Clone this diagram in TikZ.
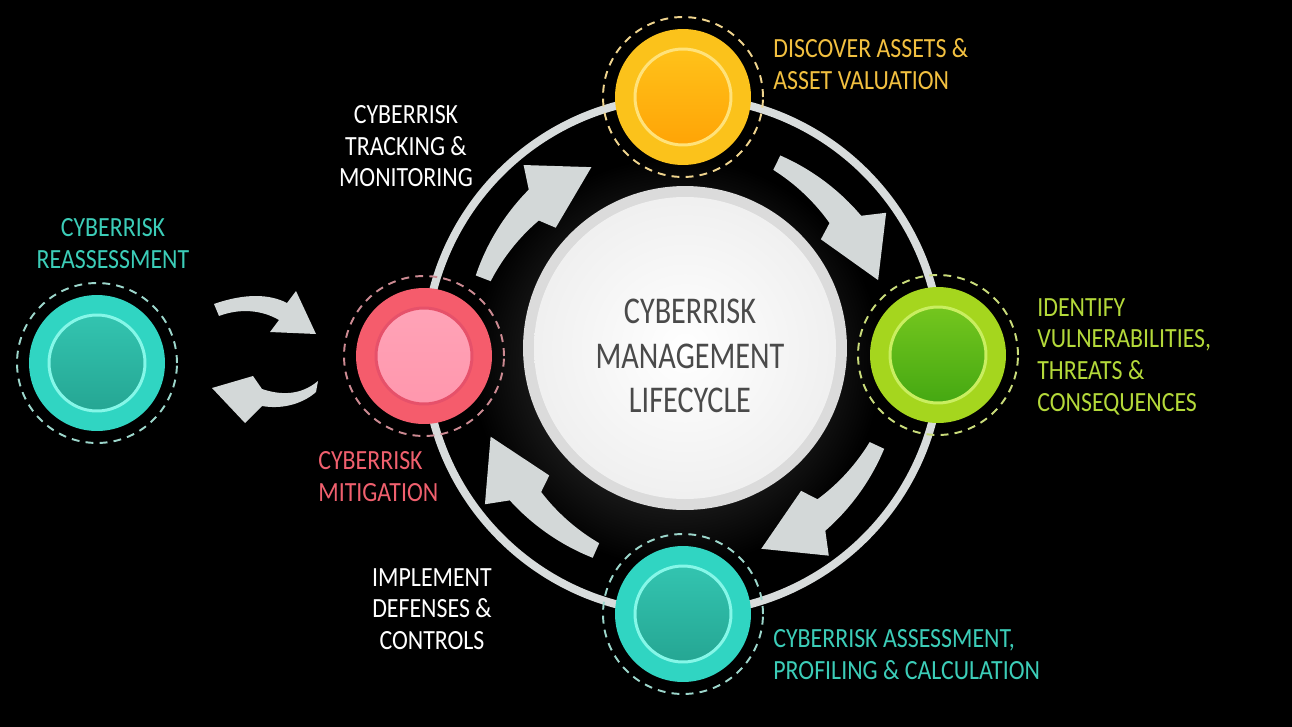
\documentclass[tikz,border=0pt]{standalone}
\usepackage{fontspec}
\setmainfont{Carlito}[FakeStretch=0.86]
\newfontfamily\hubfont{Carlito}[FakeStretch=0.8]
\usepackage{xcolor}
\usepackage{tikz}
\definecolor{ringgray}{HTML}{D8DCDC}
\definecolor{arrowgray}{HTML}{D3D8D8}
\definecolor{centertxt}{HTML}{4A4A4A}
\definecolor{outyel}{HTML}{FBC21B}\definecolor{topyel}{HTML}{FFC21A}\definecolor{botyel}{HTML}{FFA406}
\definecolor{rimyel}{HTML}{FFE27A}\definecolor{dashyel}{HTML}{EFD48E}\definecolor{txtyel}{HTML}{F2C040}
\definecolor{outgrn}{HTML}{A5D61E}\definecolor{topgrn}{HTML}{74C61E}\definecolor{botgrn}{HTML}{45A812}
\definecolor{rimgrn}{HTML}{C9EE60}\definecolor{dashgrn}{HTML}{C9DB7A}\definecolor{txtgrn}{HTML}{B4D93A}
\definecolor{outtea}{HTML}{30D5C2}\definecolor{toptea}{HTML}{33C4B0}\definecolor{bottea}{HTML}{25A693}
\definecolor{rimtea}{HTML}{85F7E8}\definecolor{dashtea}{HTML}{9CD6CB}\definecolor{txttea}{HTML}{3CCDB8}
\definecolor{outpnk}{HTML}{F55C6C}\definecolor{toppnk}{HTML}{FFA3B7}\definecolor{botpnk}{HTML}{FF97AD}
\definecolor{rimpnk}{HTML}{E6516A}\definecolor{dashpnk}{HTML}{CC8A92}\definecolor{txtpnk}{HTML}{F0606E}
\tikzset{
  dashring/.style={circle, draw=#1, line width=1.1pt, dash pattern=on 4.5pt off 3.5pt, minimum size=3.2cm, inner sep=0pt},
  satfill/.style={circle, fill=#1, minimum size=2.72cm, inner sep=0pt},
  satcore/.style={circle, minimum size=1.92cm, inner sep=0pt, line width=1.7pt},
  lbl/.style={font=\fontsize{15.8}{18.1}\selectfont, inner sep=0pt, align=left, anchor=north west},
  lblc/.style={lbl, align=center, anchor=north},
}

\begin{document}
\begin{tikzpicture}[x=0.02cm, y=-0.02cm]
\fill[black] (0,0) rectangle (1292,727);
\useasboundingbox (0,0) rectangle (1292,727);

% glow behind the hub
\shade[inner color=black!70!white, outer color=black] (676,362) circle [radius=205];

% track
\draw[ringgray, line width=0.16cm] (683,355) circle [radius=258];

% satellites
\foreach \nm/\px/\py/\c in {discover/683/97/yel, identify/938/355/grn, assess/683/614/tea, mitigate/424/356/pnk, reassess/97/363/tea}{
  \node[dashring=dash\c] (\nm-d) at (\px,\py) {};
  \node[satfill=out\c] (\nm) at (\px,\py) {};
  \node[satcore, draw=rim\c, top color=top\c, bottom color=bot\c] (\nm-c) at (\px,\py) {};
}

% center
\node[circle, fill=black!14, minimum size=6.48cm, inner sep=0pt] (hub) at (685,348) {};
\shade[inner color=white, outer color=black!6] (hub.center) circle [radius=151];
\node[font=\hubfont\fontsize{21.5}{25.5}\selectfont, text=centertxt, align=center] (hubtxt) at (690,356) {CYBERRISK\\MANAGEMENT\\LIFECYCLE};

% cycle arrows
\begin{scope}[shift={(683,355)}, yscale=-1]
\foreach \t in {159,64,-25,-114}
  \fill[arrowgray] plot[smooth, domain=0:26, samples=12] ({\t-\x}:{222+0.16*\x}) -- ({\t-29}:248) -- ({\t-43}:209)
    -- ({\t-24}:180) -- plot[smooth, domain=22:0, samples=12] ({\t-\x}:{206-0.4*\x}) -- cycle;
\end{scope}

% exchange arrows
\fill[arrowgray] (214,304) .. controls (245,293) and (270,294) .. (287,303) -- (296,291) -- (316,334) -- (270,332)
  -- (279,320) .. controls (262,310) and (240,308) .. (219,316) -- cycle;
\fill[arrowgray] (318,381) .. controls (300,396) and (280,395) .. (262,389) -- (253,376) -- (212,388) -- (245,423)
  -- (262,406) .. controls (285,410) and (305,402) .. (316,392) -- cycle;

% labels
\node[lbl, text=txtyel] (discover-t) at (773,38) {DISCOVER ASSETS \&\\ASSET VALUATION};
\node[lbl, text=txtgrn] (identify-t) at (1037,298) {IDENTIFY\\VULNERABILITIES,\\THREATS \&\\CONSEQUENCES};
\node[lbl, text=txttea] (assess-t) at (773,629) {CYBERRISK ASSESSMENT,\\PROFILING \& CALCULATION};
\node[lblc, text=white] (implement-t) at (432,568) {IMPLEMENT\\DEFENSES \&\\CONTROLS};
\node[lbl, text=txtpnk] (mitigate-t) at (318,451) {CYBERRISK\\MITIGATION};
\node[lblc, text=white] (tracking-t) at (406,105) {CYBERRISK\\TRACKING \&\\MONITORING};
\node[lblc, text=txttea] (reassess-t) at (113,218) {CYBERRISK\\REASSESSMENT};
\end{tikzpicture}
\end{document}
